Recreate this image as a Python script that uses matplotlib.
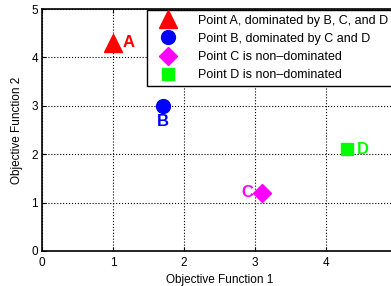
import matplotlib.pyplot as plt

plt.rcParams['font.family'] = ['Liberation Sans', 'DejaVu Sans']

names = ['A', 'B', 'C', 'D']
f1 = [1.0, 1.7, 3.1, 4.3]
f2 = [4.3, 3.0, 1.2, 2.1]
labels = ['Point A, dominated by B, C, and D',
          'Point B, dominated by C and D',
          'Point C is non\u2013dominated',
          'Point D is non\u2013dominated']
markers = ['^', 'o', 'D', 's']
sizes = [13, 10, 9, 9]
colors = ['#ff0000', '#0000ff', '#ff00ff', '#00ff00']
# label offsets (data units) and alignment
offs = [(0.14, 0.0, 'left', 'center'), (0.0, -0.33, 'center', 'center'),
        (-0.12, 0.0, 'right', 'center'), (0.14, 0.0, 'left', 'center')]
xticks = [0, 1, 2, 3, 4, 5]
xticklabels = ['0', '1', '2', '3', '4', '']

fig = plt.figure(figsize=(3.91, 2.86), dpi=100)
ax = fig.add_axes([0.1074, 0.1224, 0.908, 0.846])

for i in range(len(names)):
    ax.plot(f1[i], f2[i], marker=markers[i], markersize=sizes[i], color=colors[i],
            linestyle='none', label=labels[i])
    dx, dy, ha, va = offs[i]
    ax.text(f1[i] + dx, f2[i] + dy, names[i], color=colors[i], fontsize=12,
            fontweight='bold', ha=ha, va=va)

ax.set_xlim(0, 5)
ax.set_ylim(0, 5)
ax.set_xticks(xticks)
ax.set_xticklabels(xticklabels)
ax.set_yticks([0, 1, 2, 3, 4, 5])
ax.grid(True, linestyle=':', color='black', linewidth=0.8)
ax.tick_params(direction='in', labelsize=8.5, top=True, right=True, length=3, pad=3)
ax.tick_params(axis='x', pad=4)
for s in ax.spines.values():
    s.set_linewidth(1.2)
ax.set_xlabel('Objective Function 1', fontsize=8.5, labelpad=4)
ax.set_ylabel('Objective Function 2', fontsize=8.5, labelpad=6)

leg = ax.legend(loc='upper left', bbox_to_anchor=(0.296, 0.998), borderaxespad=0,
                fontsize=9, fancybox=False, edgecolor='black', framealpha=1,
                handlelength=2.6, handletextpad=1.1, labelspacing=0.5,
                borderpad=0.4)
leg.get_frame().set_linewidth(1.0)

fig.savefig('out.png', dpi=100)
